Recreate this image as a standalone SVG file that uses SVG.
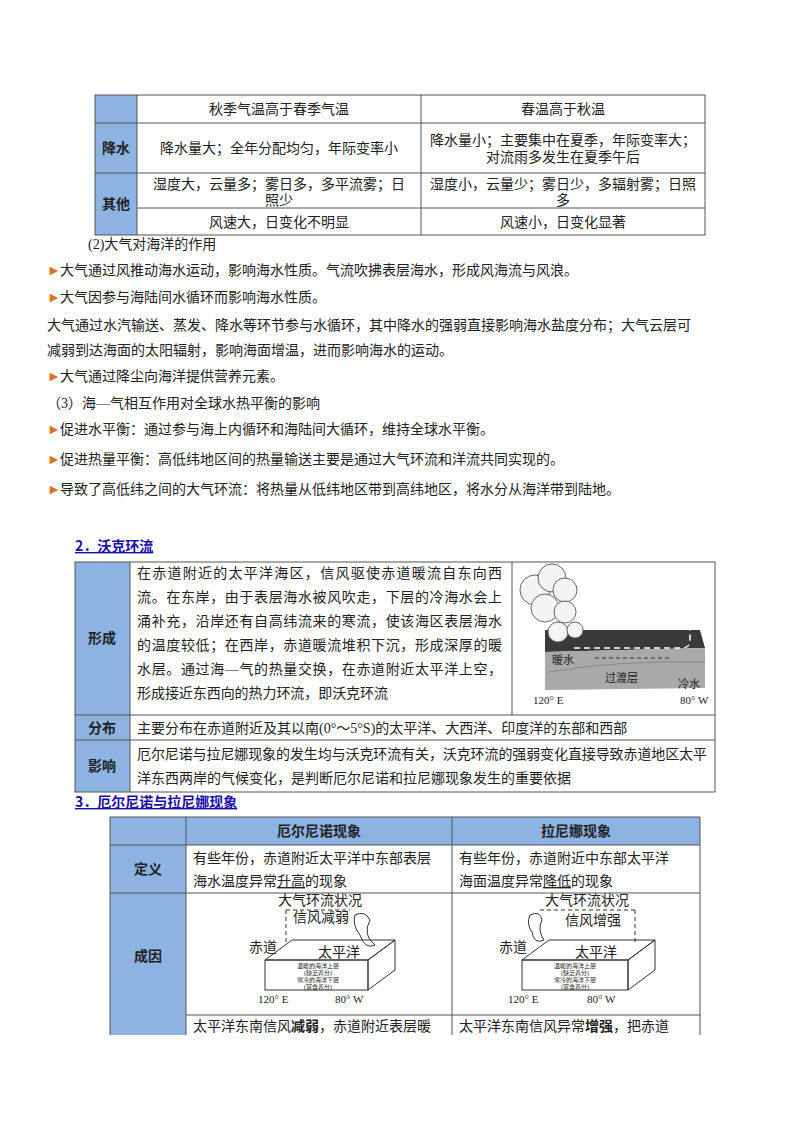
<svg xmlns="http://www.w3.org/2000/svg" width="800" height="1132" viewBox="0 0 800 1132">
<style>
text{font-family:"Liberation Serif","Noto Sans CJK SC",serif;font-size:14px;fill:#222}
.c{text-anchor:middle}
.b{font-weight:bold;font-family:"Noto Sans CJK SC",sans-serif}
.h{font-weight:bold;fill:#1a0dab;text-decoration:underline;font-family:"Noto Sans CJK SC",sans-serif}
.bul{fill:#e07020}
.g{fill:none;stroke:#555;stroke-width:1}
.bl{fill:#8db3e2}
.s{font-size:11px}
.t{font-size:6px}
.d{fill:none;stroke:#333;stroke-width:1;stroke-dasharray:4,3}
</style>
<rect width="800" height="1132" fill="#fff"/>
<g id="table1">
<rect class="bl" x="95" y="95" width="42" height="140"/>
<rect class="g" x="95" y="95" width="610" height="140"/>
<path class="g" d="M137 95V235M421 95V235M95 123H705M95 173H705M137 208H705"/>
<text class="c" x="279" y="114">秋季气温高于春季气温</text>
<text class="c" x="563" y="114">春温高于秋温</text>
<text class="b c" x="116" y="153">降水</text>
<text class="c" x="279" y="153">降水量大；全年分配均匀，年际变率小</text>
<text class="c" x="563" y="145">降水量小；主要集中在夏季，年际变率大；</text>
<text class="c" x="563" y="162">对流雨多发生在夏季午后</text>
<text class="b c" x="116" y="209">其他</text>
<text class="c" x="279" y="189">湿度大，云量多；雾日多，多平流雾；日</text>
<text class="c" x="279" y="205">照少</text>
<text class="c" x="563" y="189">湿度小，云量少；雾日少，多辐射雾；日照</text>
<text class="c" x="563" y="205">多</text>
<text class="c" x="279" y="227">风速大，日变化不明显</text>
<text class="c" x="563" y="227">风速小，日变化显著</text>
</g>
<g id="body">
<text x="88" y="249">(2)大气对海洋的作用</text>
<text class="bul" x="47" y="275">►</text><text x="60" y="275">大气通过风推动海水运动，影响海水性质。气流吹拂表层海水，形成风海流与风浪。</text>
<text class="bul" x="47" y="302">►</text><text x="60" y="302">大气因参与海陆间水循环而影响海水性质。</text>
<text x="47" y="330">大气通过水汽输送、蒸发、降水等环节参与水循环，其中降水的强弱直接影响海水盐度分布；大气云层可</text>
<text x="47" y="355">减弱到达海面的太阳辐射，影响海面增温，进而影响海水的运动。</text>
<text class="bul" x="47" y="381">►</text><text x="60" y="381">大气通过降尘向海洋提供营养元素。</text>
<text x="47" y="408">（3）海—气相互作用对全球水热平衡的影响</text>
<text class="bul" x="47" y="434">►</text><text x="60" y="434">促进水平衡：通过参与海上内循环和海陆间大循环，维持全球水平衡。</text>
<text class="bul" x="47" y="464">►</text><text x="60" y="464">促进热量平衡：高低纬地区间的热量输送主要是通过大气环流和洋流共同实现的。</text>
<text class="bul" x="47" y="494">►</text><text x="60" y="494">导致了高低纬之间的大气环流：将热量从低纬地区带到高纬地区，将水分从海洋带到陆地。</text>
<text class="h" x="75" y="551">2．沃克环流</text>
<text class="h" x="75" y="807">3．厄尔尼诺与拉尼娜现象</text>
</g>
<g id="table2">
<rect class="bl" x="75" y="562" width="55" height="230"/>
<rect class="g" x="75" y="562" width="640" height="230"/>
<path class="g" d="M130 562V792M512 562V715M75 715H715M75 740H715"/>
<text class="b c" x="102" y="643">形成</text>
<text class="b c" x="102" y="733">分布</text>
<text class="b c" x="102" y="771">影响</text>
<text x="137" y="578" textLength="365" lengthAdjust="spacing">在赤道附近的太平洋海区，信风驱使赤道暖流自东向西</text>
<text x="137" y="602" textLength="365" lengthAdjust="spacing">流。在东岸，由于表层海水被风吹走，下层的冷海水会上</text>
<text x="137" y="626" textLength="365" lengthAdjust="spacing">涌补充，沿岸还有自高纬流来的寒流，使该海区表层海水</text>
<text x="137" y="650" textLength="365" lengthAdjust="spacing">的温度较低；在西岸，赤道暖流堆积下沉，形成深厚的暖</text>
<text x="137" y="674" textLength="365" lengthAdjust="spacing">水层。通过海—气的热量交换，在赤道附近太平洋上空，</text>
<text x="137" y="698" textLength="251" lengthAdjust="spacing">形成接近东西向的热力环流，即沃克环流</text>
<text x="137" y="733">主要分布在赤道附近及其以南(0°～5°S)的太平洋、大西洋、印度洋的东部和西部</text>
<text x="137" y="759" textLength="570" lengthAdjust="spacing">厄尔尼诺与拉尼娜现象的发生均与沃克环流有关，沃克环流的强弱变化直接导致赤道地区太平</text>
<text x="137" y="783">洋东西两岸的气候变化，是判断厄尔尼诺和拉尼娜现象发生的重要依据</text>
</g>
<g id="walker">
<polygon points="545,630 700,630 705,648 545,652" fill="#3a3a3a"/>
<polygon points="545,652 705,648 705,688 545,690" fill="#a9a9a9"/>
<path d="M548 672 Q620 660 705 662" fill="none" stroke="#888"/>
<g fill="#f4f4f4" stroke="#666">
<circle cx="535" cy="590" r="15"/><circle cx="552" cy="578" r="14"/><circle cx="565" cy="590" r="12"/><circle cx="545" cy="608" r="14"/><circle cx="565" cy="612" r="11"/><circle cx="558" cy="632" r="10"/><circle cx="575" cy="630" r="8"/>
</g>
<path d="M580 602H685Q690 602 690 610V640Q690 648 682 648H570" fill="none" stroke="#fff" stroke-width="1.5" stroke-dasharray="6,4"/>
<path class="d" d="M595 658H670"/>
<text x="552" y="664" class="s">暖水</text>
<text x="605" y="682" class="s">过渡层</text>
<text x="678" y="688" class="s">冷水</text>
<text x="533" y="704" class="s">120° E</text>
<text x="680" y="704" class="s">80° W</text>
</g>
<g id="table3">
<rect class="bl" x="110" y="817" width="590" height="28"/>
<rect class="bl" x="110" y="845" width="76" height="190"/>
<path class="g" d="M110 1035V817H700V1035M186 817V1035M452 817V1035M110 845H700M110 893H700M186 1015H700"/>
<text class="b c" x="319" y="836">厄尔尼诺现象</text>
<text class="b c" x="576" y="836">拉尼娜现象</text>
<text class="b c" x="148" y="874">定义</text>
<text class="b c" x="148" y="961">成因</text>
<text x="193" y="863">有些年份，赤道附近太平洋中东部表层</text>
<text x="193" y="886">海水温度异常<tspan text-decoration="underline">升高</tspan>的现象</text>
<text x="459" y="863">有些年份，赤道附近中东部太平洋</text>
<text x="459" y="886">海面温度异常<tspan text-decoration="underline">降低</tspan>的现象</text>
<text x="193" y="1031">太平洋东南信风<tspan font-weight="bold">减弱</tspan>，赤道附近表层暖</text>
<text x="459" y="1031">太平洋东南信风异常<tspan font-weight="bold">增强</tspan>，把赤道</text>
</g>
<g id="elnino">
<text class="c" x="320" y="905" font-size="13">大气环流状况</text>
<path class="d" d="M286 910H350M286 910V945"/>
<text x="293" y="922" font-size="13">信风减弱</text>
<path d="M355 915q10 -5 15 5q-8 15 5 25q-10 5 -15 -10q-8 -10 -5 -20z" fill="none" stroke="#333"/>
<polygon points="265,960 292,940 395,940 368,960" fill="none" stroke="#333"/>
<rect x="265" y="960" width="103" height="30" fill="none" stroke="#333"/>
<polygon points="368,960 395,940 395,970 368,990" fill="none" stroke="#333"/>
<text x="249" y="952" font-size="13">赤道</text>
<text x="318" y="957" font-size="13">太平洋</text>
<text class="t c" x="318" y="968">温暖的海洋上层</text>
<text class="t c" x="318" y="975">(缺乏养分)</text>
<text class="t c" x="318" y="982">寒冷的海洋下层</text>
<text class="t c" x="318" y="989">(富含养分)</text>
<text class="s" x="258" y="1003">120° E</text>
<text class="s" x="335" y="1003">80° W</text>
</g>
<g id="lanina">
<text class="c" x="587" y="905" font-size="13">大气环流状况</text>
<path class="d" d="M540 910H635M635 910V945"/>
<text x="565" y="925" font-size="13">信风增强</text>
<path d="M530 915q10 -5 12 5q-5 10 2 20q-10 5 -12 -8q-6 -8 -2 -17z" fill="none" stroke="#333"/>
<polygon points="522,960 549,940 655,940 628,960" fill="none" stroke="#333"/>
<rect x="522" y="960" width="106" height="30" fill="none" stroke="#333"/>
<polygon points="628,960 655,940 655,970 628,990" fill="none" stroke="#333"/>
<text x="499" y="952" font-size="13">赤道</text>
<text x="575" y="957" font-size="13">太平洋</text>
<text class="t c" x="575" y="968">温暖的海洋上层</text>
<text class="t c" x="575" y="975">(缺乏养分)</text>
<text class="t c" x="575" y="982">寒冷的海洋下层</text>
<text class="t c" x="575" y="989">(富含养分)</text>
<text class="s" x="508" y="1003">120° E</text>
<text class="s" x="587" y="1003">80° W</text>
</g>
</svg>
